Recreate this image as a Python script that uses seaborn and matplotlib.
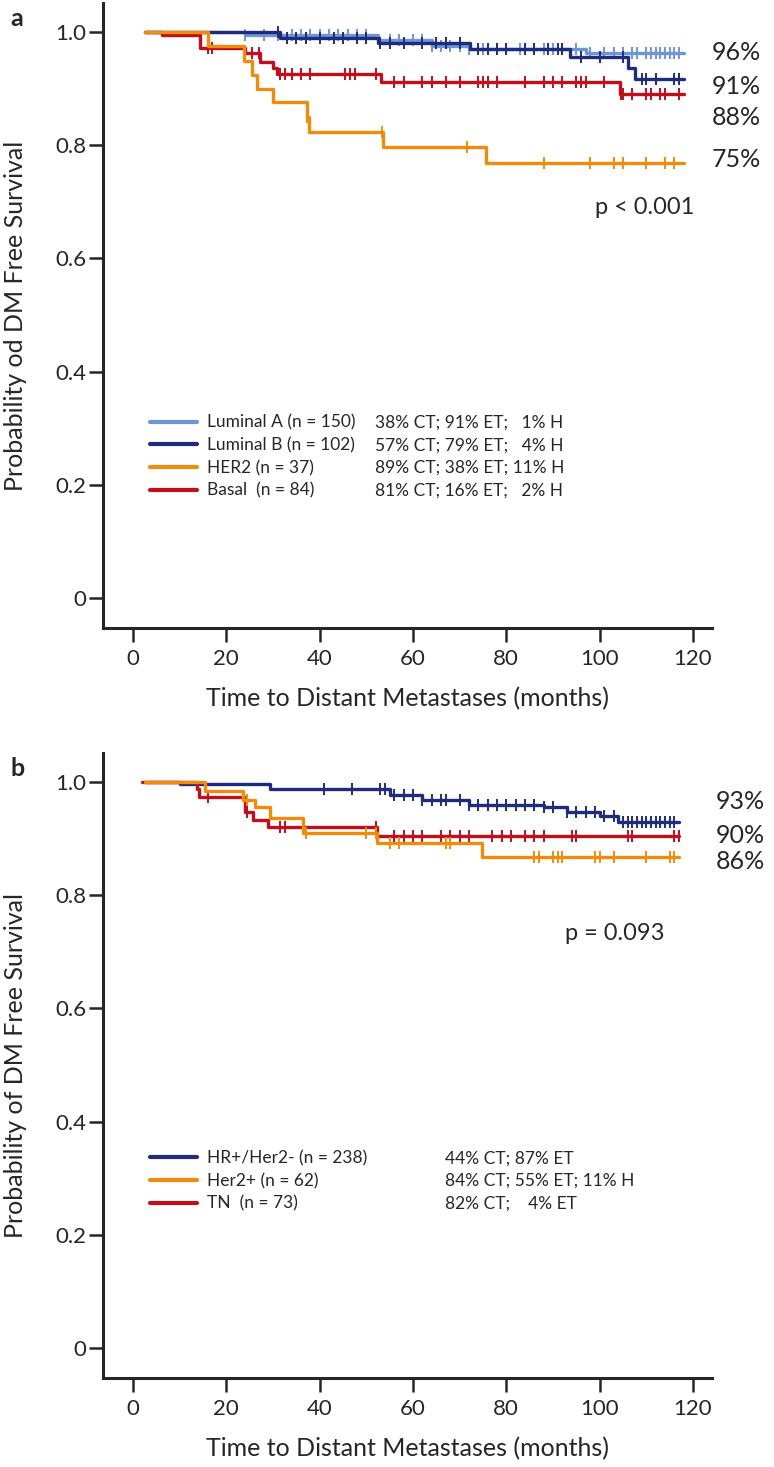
import numpy as np
import pandas as pd
import matplotlib
matplotlib.use("Agg")
import matplotlib.pyplot as plt
from matplotlib.lines import Line2D
import seaborn as sns

sns.set_style("ticks")
plt.rcParams['font.family'] = ['Lato', 'DejaVu Sans']

# ---- panel a: molecular subtypes (KM steps) ----
lumA_t = [2.5, 24, 52.5, 64, 72, 97, 118]
lumA_s = [1.0, 0.995, 0.985, 0.975, 0.970, 0.963, 0.963]
lumA_c = [24, 28, 31, 34, 36, 38, 40, 42, 44, 46, 48, 50, 55, 57, 60, 62, 64, 66, 68, 70,
          72, 75, 78, 80, 83, 86, 88, 90, 92, 95, 98, 101, 103, 105, 107, 108, 110, 111,
          112, 113, 114, 115, 116, 117]

lumB_t = [2.5, 31.5, 52.5, 72.2, 93.7, 106, 107.6, 118]
lumB_s = [1.0, 0.990, 0.980, 0.970, 0.956, 0.936, 0.917, 0.917]
lumB_c = [31, 33, 35, 37, 40, 43, 45, 48, 50, 53, 55, 58, 62, 65, 67, 70, 74, 76, 78, 80,
          84, 86, 89, 91, 92, 96, 100, 105, 109, 110, 112, 116, 117]

her2_t = [2.5, 16, 23.8, 25.5, 26.5, 30, 37.3, 37.8, 53.6, 75.7, 118]
her2_s = [1.0, 0.975, 0.948, 0.924, 0.900, 0.876, 0.850, 0.823, 0.796, 0.768, 0.768]
her2_c = [37.3, 53.4, 71.5, 88, 98, 103, 105, 110, 114, 116]

basal_t = [2.5, 6.2, 14.4, 24, 27.2, 30, 30.9, 53.2, 104.4, 118]
basal_s = [1.0, 0.995, 0.972, 0.963, 0.947, 0.936, 0.926, 0.912, 0.890, 0.890]
basal_c = [16, 17, 25.5, 27, 31.5, 32.5, 34, 36, 38, 45.5, 46.5, 47.5, 52, 56, 58, 62, 64,
           67, 70, 74, 75, 76, 78, 84, 88, 90, 92, 95, 96, 97, 101, 104.5, 105, 107, 110,
           111, 113, 114, 117]

a_names = ["Luminal A (n = 150)", "Luminal B (n = 102)", "HER2 (n = 37)", "Basal  (n = 84)"]
a_extra = ["38% CT; 91% ET;   1% H", "57% CT; 79% ET;   4% H",
           "89% CT; 38% ET; 11% H", "81% CT; 16% ET;   2% H"]
a_pct = ["96%", "91%", "88%", "75%"]
a_pct_y = [0.963, 0.903, 0.848, 0.774]

# ---- panel b: clinical subtypes ----
hr_t = [2.5, 10, 29.4, 55, 62, 72, 88, 93, 100, 104, 117]
hr_s = [1.0, 0.996, 0.988, 0.976, 0.968, 0.960, 0.955, 0.946, 0.940, 0.930, 0.930]
hr_c = [41, 47, 53, 54, 56, 58, 60, 62, 64, 66, 67, 70, 72, 74, 76, 78, 80, 82, 84, 86, 88,
        90, 93, 95, 97, 99, 101, 103, 105, 106, 107, 108, 109, 110, 111, 112, 113, 114,
        115, 116]

her2p_t = [2.5, 15.4, 23.6, 26.1, 29.4, 36.4, 52.3, 74.8, 117]
her2p_s = [1.0, 0.984, 0.968, 0.956, 0.936, 0.910, 0.892, 0.868, 0.868]
her2p_c = [24.5, 37, 50, 52, 55, 57, 67, 68, 86, 87, 90, 91, 92, 99, 100, 103, 110, 115, 116]

tn_t = [1.9, 13.7, 14.2, 24, 25.7, 29, 52.3, 117]
tn_s = [1.0, 0.988, 0.973, 0.947, 0.933, 0.920, 0.905, 0.905]
tn_c = [16, 24.5, 31.5, 32.6, 36.4, 52, 56, 58, 60, 62, 66, 68, 70, 72, 77, 79, 81, 84, 86,
        88, 94, 95, 106, 107, 116, 117]

b_names = ["HR+/Her2- (n = 238)", "Her2+ (n = 62)", "TN  (n = 73)"]
b_extra = ["44% CT; 87% ET", "84% CT; 55% ET; 11% H", "82% CT;    4% ET"]
b_pct = ["93%", "90%", "86%"]
b_pct_y = [0.965, 0.906, 0.859]

c_lumA, c_lumB, c_her2, c_basal = "#6f95d6", "#1f2c7c", "#f08c0c", "#c20d1a"


def km(ax, t, s, cens, color):
    df = pd.DataFrame({"t": t, "s": s})
    sns.lineplot(data=df, x="t", y="s", ax=ax, color=color, lw=2.4,
                 drawstyle="steps-post", estimator=None, sort=False)
    t = np.asarray(t)
    s = np.asarray(s)
    cy = s[np.searchsorted(t, cens, side="right") - 1]
    ax.plot(cens, cy, ls="none", marker="|", ms=8, mew=1.4, color=color)


def style(ax, ylab):
    ax.set_xlim(-6.4, 124.1)
    ax.set_ylim(-0.053, 1.051)
    ax.set_xticks([0, 20, 40, 60, 80, 100, 120])
    ax.set_yticks([0, 0.2, 0.4, 0.6, 0.8, 1.0])
    ax.set_yticklabels(["0", "0.2", "0.4", "0.6", "0.8", "1.0"])
    sns.despine(ax=ax)
    for sp in ["left", "bottom"]:
        ax.spines[sp].set_linewidth(2.2)
    ax.tick_params(axis="both", length=10, width=1.8, labelsize=16, direction="out")
    ax.tick_params(axis="x", pad=5)
    ax.tick_params(axis="y", pad=2)
    ax.set_xlabel("Time to Distant Metastases (months)", fontsize=18)
    ax.set_ylabel(ylab, fontsize=18)
    ax.yaxis.set_label_coords(-0.125, 0.5)
    ax.xaxis.set_label_coords(0.5, -0.095)


def legends(ax, names, extra, colors, y, x2):
    h = [Line2D([], [], color=c, lw=3) for c in colors]
    leg = ax.legend(h, names, loc="center left", bbox_to_anchor=(0.077, y),
                    frameon=False, fontsize=12.5, handlelength=2.7, handletextpad=0.6,
                    labelspacing=0.38, borderpad=0, borderaxespad=0)
    ax.add_artist(leg)
    h0 = [Line2D([], [], lw=0) for _ in extra]
    ax.legend(h0, extra, loc="center left", bbox_to_anchor=(x2, y),
              frameon=False, fontsize=12.5, handlelength=0, handletextpad=0,
              labelspacing=0.38, borderpad=0, borderaxespad=0)


fig = plt.figure(figsize=(7.74, 14.67), dpi=100)
ax_a = fig.add_axes([0.1331, 0.5719, 0.7868, 0.4260])
ax_b = fig.add_axes([0.1331, 0.0607, 0.7868, 0.4260])

# panel a
km(ax_a, lumA_t, lumA_s, lumA_c, c_lumA)
km(ax_a, lumB_t, lumB_s, lumB_c, c_lumB)
km(ax_a, basal_t, basal_s, basal_c, c_basal)
km(ax_a, her2_t, her2_s, her2_c, c_her2)
style(ax_a, "Probability od DM Free Survival")
legends(ax_a, a_names, a_extra, [c_lumA, c_lumB, c_her2, c_basal], 0.274, 0.447)
for lab, y in zip(a_pct, a_pct_y):
    ax_a.text(124, y, lab, fontsize=18, va="center", ha="left", clip_on=False)
ax_a.text(109.7, 0.69, "p < 0.001", fontsize=17, ha="center", va="center")
fig.text(10 / 774, 1 - 18 / 1467, "a", fontsize=18, fontweight="bold", va="center")

# panel b
km(ax_b, hr_t, hr_s, hr_c, c_lumB)
km(ax_b, tn_t, tn_s, tn_c, c_basal)
km(ax_b, her2p_t, her2p_s, her2p_c, c_her2)
style(ax_b, "Probability of DM Free Survival")
legends(ax_b, b_names, b_extra, [c_lumB, c_her2, c_basal], 0.315, 0.562)
for lab, y in zip(b_pct, b_pct_y):
    ax_b.text(125, y, lab, fontsize=18, va="center", ha="left", clip_on=False)
ax_b.text(103.3, 0.733, "p = 0.093", fontsize=17, ha="center", va="center")
fig.text(10 / 774, 1 - 768 / 1467, "b", fontsize=18, fontweight="bold", va="center")

fig.savefig("out.png", dpi=100)
